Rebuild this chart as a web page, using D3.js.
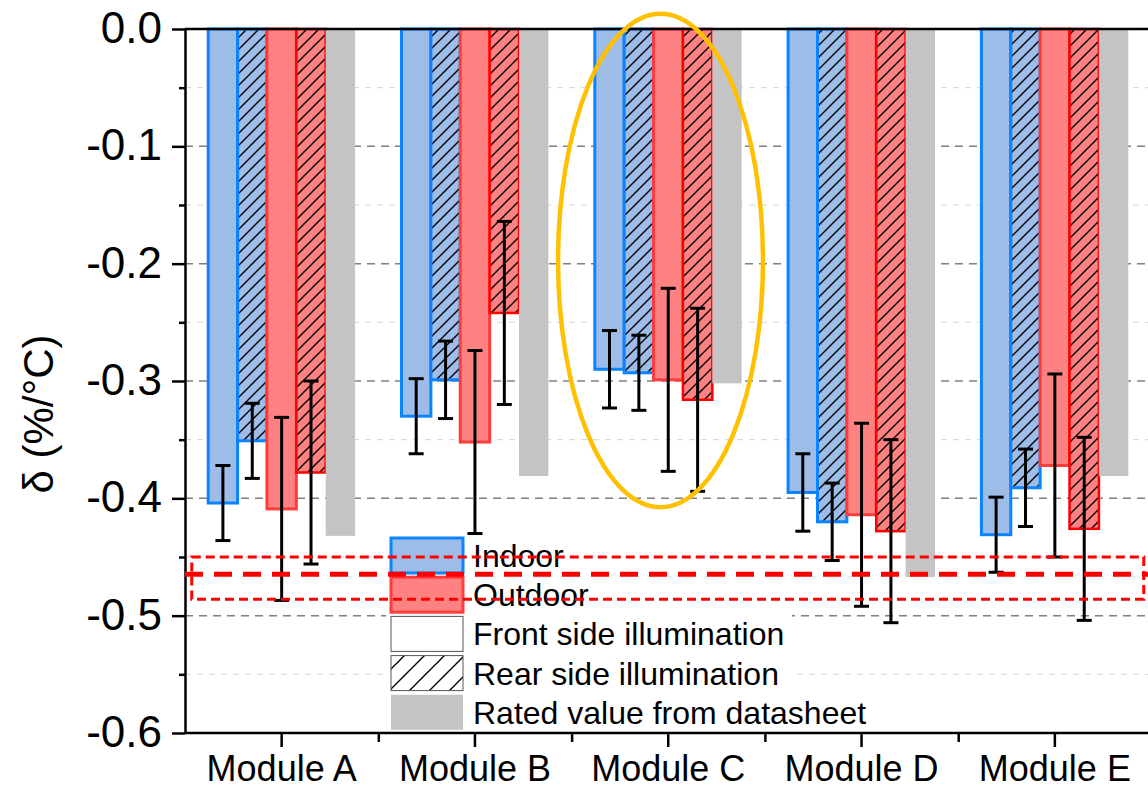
<!DOCTYPE html>
<html>
<head>
<meta charset="utf-8">
<script src="https://cdn.jsdelivr.net/npm/d3@7"></script>
<style>
  body { margin: 0; background: #fff; }
  svg { font-family: "Liberation Sans", Arial, sans-serif; }
</style>
</head>
<body>
<svg id="chart" width="1148" height="790"></svg>
<script>
// values
var modules = ["Module A", "Module B", "Module C", "Module D", "Module E"];
var indoorFront     = [-0.404, -0.330, -0.290, -0.395, -0.431];
var indoorFrontErr  = [0.032, 0.032, 0.033, 0.033, 0.032];
var indoorRear      = [-0.351, -0.299, -0.293, -0.420, -0.391];
var indoorRearErr   = [0.032, 0.033, 0.032, 0.033, 0.033];
var outdoorFront    = [-0.409, -0.352, -0.299, -0.414, -0.372];
var outdoorFrontErr = [0.078, 0.078, 0.078, 0.078, 0.078];
var outdoorRear     = [-0.378, -0.242, -0.316, -0.428, -0.426];
var outdoorRearErr  = [0.078, 0.078, 0.078, 0.078, 0.078];
var rated           = [-0.432, -0.381, -0.302, -0.467, -0.381];

var majorTicks = [0, -0.1, -0.2, -0.3, -0.4, -0.5, -0.6];
var minorTicks = [-0.05, -0.15, -0.25, -0.35, -0.45, -0.55];
var legendLabels = ["Indoor", "Outdoor", "Front side illumination", "Rear side illumination", "Rated value from datasheet"];

// annotations (in data units)
var refBand = [-0.450, -0.486];
var refBandX = [0.535, 5.46];
var refLine = -0.4646;
var ellipseX = [2.43, 3.49];
var ellipseY = [0.013, -0.4075];

var series = [
  {key: "inF", vals: indoorFront, err: indoorFrontErr, fill: "#9dbde8", stroke: "#0a84ff", sw: 3},
  {key: "inR", vals: indoorRear, err: indoorRearErr, fill: "url(#hatchBlue)", stroke: "#0a84ff", sw: 3},
  {key: "outF", vals: outdoorFront, err: outdoorFrontErr, fill: "#ff8282", stroke: "#ff3c3c", sw: 3},
  {key: "outR", vals: outdoorRear, err: outdoorRearErr, fill: "url(#hatchRed)", stroke: "#ff0000", sw: 2.5},
  {key: "rated", vals: rated, err: null, fill: "#c4c4c4", stroke: "none", sw: 0}
];

var svg = d3.select("#chart");
var plotLeft = 185, plotTop = 29, plotBottom = 733, step = 193.3, plotRight = 1148;

var x = d3.scaleBand().domain(modules).range([plotLeft, plotLeft + 5 * step]);
var xs = d3.scaleBand().domain(series.map(function(s) { return s.key; }))
  .range([0, x.bandwidth()]).paddingInner(0).paddingOuter(0.79);
var xPos = d3.scaleLinear().domain([0.5, 5.5]).range([plotLeft, plotLeft + 5 * step]);
var y = d3.scaleLinear().domain([-0.6, 0]).range([plotBottom, plotTop]);

// hatch patterns
var defs = svg.append("defs");
function hatch(id, bg, size, w) {
  var p = defs.append("pattern").attr("id", id)
    .attr("patternUnits", "userSpaceOnUse")
    .attr("width", size).attr("height", size);
  p.append("rect").attr("width", size).attr("height", size).attr("fill", bg);
  p.append("path")
    .attr("d", "M0," + size + "L" + size + ",0M-3,3L3,-3M" + (size - 3) + "," + (size + 3) + "L" + (size + 3) + "," + (size - 3))
    .attr("stroke", "#000").attr("stroke-width", w);
}
hatch("hatchBlue", "#9dbde8", 12, 1.4);
hatch("hatchRed", "#ff8282", 12, 1.4);
hatch("hatchLegend", "#fff", 20, 1.4);

// grid
svg.append("g").selectAll("line").data(minorTicks).enter().append("line")
  .attr("x1", plotLeft).attr("x2", plotRight)
  .attr("y1", function(d) { return y(d); }).attr("y2", function(d) { return y(d); })
  .attr("stroke", "#d4d4d4").attr("stroke-width", 1).attr("stroke-dasharray", "6,6");
svg.append("g").selectAll("line").data(majorTicks.filter(function(d) { return d < 0 && d > -0.6; })).enter().append("line")
  .attr("x1", plotLeft).attr("x2", plotRight)
  .attr("y1", function(d) { return y(d); }).attr("y2", function(d) { return y(d); })
  .attr("stroke", "#808080").attr("stroke-width", 1.5).attr("stroke-dasharray", "8,6");

// bars
series.forEach(function(s) {
  svg.append("g").selectAll("rect").data(s.vals).enter().append("rect")
    .attr("x", function(d, i) { return x(modules[i]) + xs(s.key); })
    .attr("y", y(0))
    .attr("width", xs.bandwidth())
    .attr("height", function(d) { return y(d) - y(0); })
    .attr("fill", s.fill)
    .attr("stroke", s.stroke)
    .attr("stroke-width", s.sw);
});

// error bars
series.forEach(function(s) {
  if (!s.err) return;
  var g = svg.append("g").attr("stroke", "#000").attr("stroke-width", 3);
  s.vals.forEach(function(v, i) {
    var cx = x(modules[i]) + xs(s.key) + xs.bandwidth() / 2;
    var y1 = y(v + s.err[i]), y2 = y(v - s.err[i]);
    g.append("line").attr("x1", cx).attr("x2", cx).attr("y1", y1).attr("y2", y2);
    g.append("line").attr("x1", cx - 7.5).attr("x2", cx + 7.5).attr("y1", y1).attr("y2", y1);
    g.append("line").attr("x1", cx - 7.5).attr("x2", cx + 7.5).attr("y1", y2).attr("y2", y2);
  });
});

// legend
var lg = svg.append("g");
lg.append("rect").attr("x", 386).attr("y", 536).attr("width", 406).attr("height", plotBottom - 536).attr("fill", "#fff");
var swFill = ["#9dbde8", "#ff8282", "#fff", "url(#hatchLegend)", "#c4c4c4"];
var swStroke = ["#0a84ff", "#ff3c3c", "#555", "#555", "none"];
var swWidth = [3, 3, 1, 1, 0];
legendLabels.forEach(function(t, i) {
  var ry = 538 + i * 39.2;
  lg.append("rect").attr("x", 391).attr("y", ry).attr("width", 72).attr("height", 35)
    .attr("fill", swFill[i]).attr("stroke", swStroke[i]).attr("stroke-width", swWidth[i]);
  lg.append("text").attr("x", 473).attr("y", ry + 29).attr("font-size", 32).attr("fill", "#000").text(t);
});

// axes
var yAxis = d3.axisLeft(y).tickValues(majorTicks).tickSize(13).tickSizeOuter(0)
  .tickFormat(function(d) { return d.toFixed(1); });
var gy = svg.append("g").attr("transform", "translate(" + plotLeft + ",0)").call(yAxis);
gy.selectAll("text").attr("font-size", 44).attr("font-family", "Liberation Sans, Arial, sans-serif")
  .attr("fill", "#000").attr("x", -23).attr("dy", "0.31em");
gy.select(".domain").attr("stroke-width", 2.5);
gy.selectAll(".tick line").attr("stroke-width", 2.5);
var gyMinor = svg.append("g").attr("transform", "translate(" + plotLeft + ",0)")
  .call(d3.axisLeft(y).tickValues(minorTicks).tickSize(6).tickFormat(""));
gyMinor.select(".domain").remove();
gyMinor.selectAll(".tick line").attr("stroke-width", 2.5);

var xAxis = d3.axisBottom(x).tickSize(14).tickSizeOuter(0);
var gx = svg.append("g").attr("transform", "translate(0," + plotBottom + ")").call(xAxis);
gx.select(".domain").attr("stroke-width", 2.5).attr("d", "M" + plotLeft + ",0H" + plotRight);
gx.selectAll(".tick line").attr("stroke-width", 2.5);
gx.selectAll("text").attr("font-size", 36).attr("font-family", "Liberation Sans, Arial, sans-serif")
  .attr("fill", "#000").attr("y", 0).attr("dy", 48);
var gxMinor = svg.append("g").attr("transform", "translate(0," + plotBottom + ")")
  .call(d3.axisBottom(xPos).tickValues([1.5, 2.5, 3.5, 4.5]).tickSize(9).tickFormat(""));
gxMinor.select(".domain").remove();
gxMinor.selectAll(".tick line").attr("stroke-width", 2.5);

// top frame line
svg.append("line").attr("x1", plotLeft).attr("x2", plotRight).attr("y1", y(0)).attr("y2", y(0))
  .attr("stroke", "#000").attr("stroke-width", 2.5);

// y title
svg.append("text").attr("transform", "translate(53,414) rotate(-90)")
  .attr("text-anchor", "middle").attr("font-size", 42).attr("fill", "#000").text("δ (%/°C)");

// red dashed annotations
svg.append("rect")
  .attr("x", xPos(refBandX[0])).attr("y", y(refBand[0]))
  .attr("width", xPos(refBandX[1]) - xPos(refBandX[0]))
  .attr("height", y(refBand[1]) - y(refBand[0]))
  .attr("fill", "none").attr("stroke", "#ff0000").attr("stroke-width", 3).attr("stroke-dasharray", "9,5");
svg.append("line").attr("x1", plotLeft).attr("x2", plotRight).attr("y1", y(refLine)).attr("y2", y(refLine))
  .attr("stroke", "#ff0000").attr("stroke-width", 5).attr("stroke-dasharray", "18,11");

// highlight ellipse
svg.append("ellipse")
  .attr("cx", (xPos(ellipseX[0]) + xPos(ellipseX[1])) / 2)
  .attr("cy", (y(ellipseY[0]) + y(ellipseY[1])) / 2)
  .attr("rx", (xPos(ellipseX[1]) - xPos(ellipseX[0])) / 2)
  .attr("ry", (y(ellipseY[1]) - y(ellipseY[0])) / 2)
  .attr("fill", "none").attr("stroke", "#ffc000").attr("stroke-width", 4.5);
</script>
</body>
</html>
